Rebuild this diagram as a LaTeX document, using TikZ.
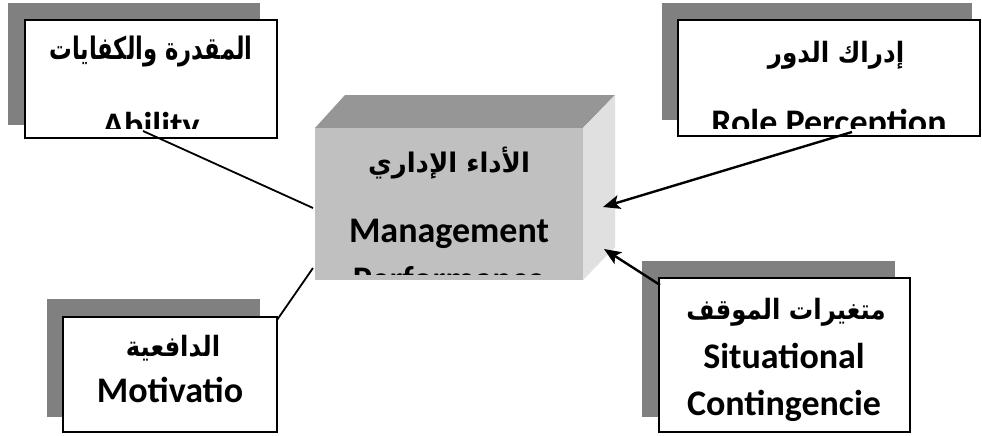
\documentclass[tikz,border=0pt]{standalone}
\usepackage{fontspec}
\setmainfont{Carlito}
\newfontfamily\arabicfont[Script=Arabic]{DejaVu Sans}
\TeXXeTstate=1
\usetikzlibrary{arrows.meta}
\definecolor{shadowgray}{RGB}{128,128,128}
\definecolor{frontgray}{RGB}{192,192,192}
\definecolor{topgray}{RGB}{150,150,150}
\definecolor{sidegray}{RGB}{224,224,224}
\tikzset{
  shadowrect/.style={fill=shadowgray,draw=none},
  whiterect/.style={fill=white,draw=black,line width=2pt},
  entext/.style={font=\fontsize{36}{40}\selectfont\bfseries,inner sep=0pt,anchor=base},
  artext/.style={font=\arabicfont\fontsize{28}{30}\selectfont\bfseries,inner sep=0pt},
  artextbig/.style={font=\arabicfont\fontsize{31}{34}\selectfont\bfseries,inner sep=0pt},
  artextsmall/.style={font=\arabicfont\fontsize{27}{30}\selectfont\bfseries,inner sep=0pt},
  plainline/.style={draw=black,line width=1.8pt},
  arrowline/.style={draw=black,line width=2.4pt,-{Stealth[length=17pt,width=14pt,inset=4pt]}}
}
\begin{document}
\begin{tikzpicture}[x=1pt,y=-1pt]
\useasboundingbox (0,0) rectangle (982,436);
\fill[white] (0,0) rectangle (982,436);

% ---- Ability box (top left)
\path[shadowrect] (8,3) rectangle (260,125);
\path[whiterect] (25,20) rectangle (277,138);
\node[artextbig] (abilityar) at (151,52) {\scalebox{0.73}[1]{\beginR المقدرة والكفايات\endR}};
\begin{scope}
  \clip (25,20) rectangle (277,128);
  \node[entext] (abilityen) at (151,137) {Ability};
\end{scope}

% ---- Role perception box (top right)
\path[shadowrect] (662,3) rectangle (972,120);
\path[whiterect] (678,20) rectangle (980,136);
\node[artext] (rolear) at (836,55) {\scalebox{0.88}[1]{\beginR إدراك الدور\endR}};
\begin{scope}
  \clip (678,20) rectangle (980,128);
  \node[entext] (roleen) at (829,134) {Role Perception};
\end{scope}

% ---- Motivation box (bottom left)
\path[shadowrect] (47,299) rectangle (260,417);
\path[whiterect] (63,317) rectangle (277,432);
\node[artext] (motivar) at (173,348) {\scalebox{0.87}[1]{\beginR الدافعية\endR}};
\node[entext] (motiven) at (170,402) {Motivatio};

% ---- Situational box (bottom right)
\path[shadowrect] (642,261) rectangle (895,417);
\path[whiterect] (659,278) rectangle (910,432);
\node[artext] (situar) at (786,312) {\scalebox{0.87}[1]{\beginR متغيرات الموقف\endR}};
\node[entext] (situen1) at (784,368) {Situational};
\node[entext] (situen2) at (784,415) {Contingencie};

% ---- Central 3D box
\fill[topgray] (315,128) -- (345,95) -- (615,95) -- (583,128) -- cycle;
\fill[sidegray] (583,128) -- (615,95) -- (615,247) -- (583,280) -- cycle;
\fill[frontgray] (315,128) rectangle (583,280);
\node[artextsmall] (mgmtar) at (449,163) {\scalebox{0.96}[1]{\beginR الأداء الإداري\endR}};
\node[entext] (mgmten) at (449,242) {Management};
\begin{scope}
  \clip (315,128) rectangle (583,274);
  \node[entext] (perfen) at (449,291) {Performance};
\end{scope}

% ---- connectors
\coordinate (a1) at (143,131);
\coordinate (a2) at (313,208);
\coordinate (r1) at (852,132);
\coordinate (r2) at (603,207);
\coordinate (s1) at (660,285);
\coordinate (s2) at (604,249);
\coordinate (m1) at (277,320);
\coordinate (m2) at (313,268);
\draw[plainline] (a1) -- (a2);
\draw[plainline] (m1) -- (m2);
\draw[arrowline] (r1) -- (r2);
\draw[arrowline] (s1) -- (s2);
\end{tikzpicture}
\end{document}
